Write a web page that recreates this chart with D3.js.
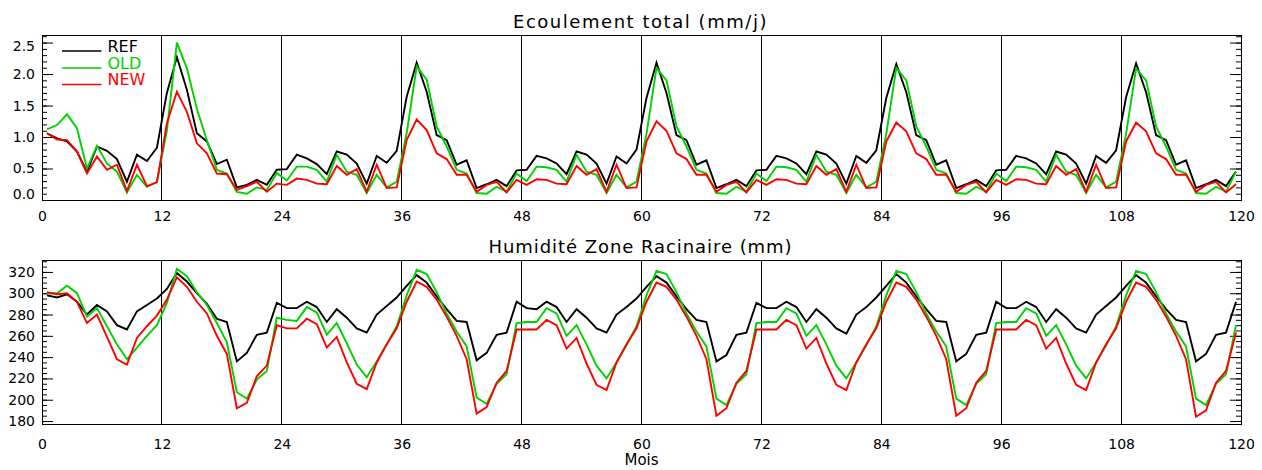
<!DOCTYPE html>
<html><head><meta charset="utf-8">
<script src="https://cdn.jsdelivr.net/npm/d3@7"></script>
<style>
body{margin:0;background:#fff}
svg{display:block}
text{font-family:"DejaVu Sans",sans-serif;fill:#000}
</style>
</head><body>
<svg id="chart" width="1262" height="470"></svg>
<script>
// ---------------- DATA ----------------
const monthTicks = [0,12,24,36,48,60,72,84,96,108,120];
const seriesNames = ["REF","OLD","NEW"];
const seriesColors = ["#000000","#00d200","#ff0000"];

const runoffRef = [
1.06,0.98,0.93,0.77,0.45,0.85,0.78,0.65,0.29,0.72,0.62,0.83,
1.70,2.27,1.75,1.06,0.93,0.57,0.64,0.20,0.24,0.32,0.24,0.48,
0.49,0.72,0.66,0.57,0.41,0.77,0.72,0.58,0.26,0.70,0.59,0.78,
1.64,2.18,1.72,1.03,0.95,0.56,0.63,0.19,0.25,0.32,0.22,0.47,
0.48,0.70,0.66,0.58,0.41,0.77,0.72,0.58,0.26,0.69,0.58,0.80,
1.62,2.18,1.70,1.03,0.95,0.56,0.63,0.19,0.25,0.32,0.22,0.47,
0.48,0.70,0.66,0.58,0.41,0.77,0.72,0.58,0.26,0.70,0.59,0.79,
1.62,2.16,1.71,1.03,0.95,0.56,0.63,0.19,0.25,0.32,0.22,0.47,
0.48,0.70,0.66,0.58,0.41,0.77,0.72,0.58,0.26,0.70,0.59,0.79,
1.63,2.17,1.71,1.03,0.95,0.56,0.63,0.19,0.25,0.32,0.22,0.45];

const runoffOld = [
1.12,1.19,1.36,1.14,0.50,0.86,0.58,0.45,0.12,0.40,0.21,0.29,
1.10,2.50,2.09,1.45,0.95,0.48,0.42,0.13,0.10,0.20,0.16,0.43,
0.31,0.53,0.53,0.48,0.29,0.72,0.45,0.40,0.11,0.40,0.20,0.29,
1.06,2.12,1.91,1.17,0.85,0.48,0.42,0.11,0.10,0.21,0.13,0.42,
0.30,0.53,0.52,0.48,0.29,0.72,0.45,0.40,0.11,0.40,0.20,0.29,
1.05,2.10,1.90,1.17,0.85,0.48,0.42,0.11,0.10,0.21,0.13,0.42,
0.30,0.53,0.52,0.48,0.29,0.72,0.45,0.40,0.11,0.40,0.20,0.29,
1.05,2.10,1.90,1.17,0.85,0.48,0.42,0.11,0.10,0.21,0.13,0.42,
0.30,0.53,0.52,0.48,0.29,0.72,0.45,0.40,0.11,0.40,0.20,0.29,
1.05,2.09,1.90,1.17,0.85,0.48,0.42,0.11,0.10,0.21,0.13,0.45];

const runoffNew = [
1.06,0.96,0.95,0.77,0.42,0.69,0.48,0.56,0.14,0.56,0.22,0.28,
1.22,1.72,1.40,0.90,0.74,0.42,0.41,0.16,0.22,0.29,0.13,0.26,
0.24,0.34,0.32,0.26,0.25,0.54,0.40,0.49,0.13,0.56,0.19,0.20,
0.95,1.28,1.11,0.74,0.65,0.40,0.40,0.13,0.24,0.29,0.12,0.32,
0.24,0.33,0.32,0.26,0.25,0.54,0.40,0.49,0.13,0.56,0.19,0.20,
0.93,1.25,1.10,0.74,0.65,0.40,0.40,0.13,0.24,0.29,0.12,0.32,
0.24,0.33,0.32,0.26,0.25,0.54,0.40,0.49,0.13,0.56,0.19,0.20,
0.93,1.23,1.09,0.74,0.65,0.40,0.40,0.13,0.24,0.29,0.12,0.32,
0.24,0.33,0.32,0.26,0.25,0.54,0.40,0.49,0.13,0.56,0.19,0.20,
0.93,1.23,1.09,0.74,0.65,0.40,0.40,0.13,0.24,0.29,0.12,0.25];

const moistRef = [
298,296,299,292,280,289,283,270,266,283,289,295,
304,319,311,300,290,276,273,236,244,261,263,291,
286,286,292,287,273,285,277,267,263,280,288,296,
307,317,310,297,285,274,273,237,244,261,263,292,
286,285,292,287,273,285,277,267,263,280,287,295,
306,316,310,297,285,275,273,236,242,261,263,291,
286,286,292,287,273,285,277,267,262,280,287,296,
307,318,310,297,285,274,273,236,243,261,263,292,
286,286,292,287,273,285,277,267,263,280,288,296,
307,317,310,297,285,275,273,236,243,261,263,292];

const moistOld = [
300,300,307,300,278,286,269,252,238,249,260,270,
291,323,316,301,289,272,254,207,201,219,227,277,
275,274,287,282,261,272,253,233,221,236,252,269,
298,322,318,301,281,264,250,202,196,215,224,272,
273,273,286,281,260,270,252,232,220,235,251,269,
298,321,318,301,281,264,250,201,195,215,224,272,
273,273,286,281,260,270,252,232,220,235,251,269,
298,321,318,301,281,264,250,201,195,215,224,272,
273,273,286,281,260,270,252,232,220,235,251,269,
298,321,318,301,281,264,250,201,195,215,224,270];

const moistNew = [
301,299,300,292,272,280,259,238,233,258,269,279,
294,315,306,292,281,260,243,192,197,222,232,270,
267,267,276,271,249,259,235,215,210,235,252,267,
292,311,306,294,278,260,238,187,193,216,227,266,
266,266,275,270,248,258,234,214,209,235,252,267,
292,310,306,294,278,260,238,185,192,216,227,266,
266,266,275,270,248,258,234,214,209,235,252,267,
292,310,306,294,278,260,238,185,192,216,227,266,
266,266,275,270,248,258,234,214,209,235,252,267,
292,310,306,294,278,260,238,184,190,216,227,263];

const runoffMajor = [0,0.5,1.0,1.5,2.0,2.5];
const moistMajor = [180,200,220,240,260,280,300,320];

// ---------------- DRAW ----------------
const svg = d3.select("#chart");
const x = d3.scaleLinear().domain([0,120]).range([42,1241]);
const snap = v => Math.floor(v) + 0.5;

const panels = [
  {title:"Ecoulement total (mm/j)", titleY:27.7, titleW:255,
   top:35, bottom:200, domain:[0,2.62], series:[runoffRef,runoffOld,runoffNew],
   major:runoffMajor, minor:d3.range(0,2.61,0.1), fmt:d3.format(".1f"),
   labMin:10.7, labMax:5.7, xLabOff:20.5, legend:true},
  {title:"Humidité Zone Racinaire (mm)", titleY:252.7, titleW:304,
   top:260, bottom:424, domain:[177.2,331.2], series:[moistRef,moistOld,moistNew],
   major:moistMajor, minor:d3.range(180,331,5), fmt:d3.format("d"),
   labMin:10.7, labMax:3.3, xLabOff:24.5, legend:false}
];

panels.forEach(p => {
  const y = d3.scaleLinear().domain(p.domain).range([p.bottom, p.top]);
  const g = svg.append("g");

  // title
  const t = g.append("text").attr("x",640.5).attr("y",p.titleY)
    .attr("text-anchor","middle").style("font-size","18px").text(p.title);
  const n = p.title.length;
  const w0 = t.node().getComputedTextLength();
  t.style("letter-spacing", ((p.titleW - w0)/n).toFixed(2)+"px");

  // month separators
  g.selectAll("line.sep").data(monthTicks.slice(1,-1)).join("line")
    .attr("class","sep")
    .attr("x1",d=>snap(x(d))).attr("x2",d=>snap(x(d)))
    .attr("y1",p.top).attr("y2",p.bottom)
    .attr("stroke","#000").attr("stroke-width",1);

  // left axis minor & major
  const axL = g.append("g").attr("transform",`translate(${snap(x(0))-0.5},0)`);
  axL.append("g").call(d3.axisLeft(y).tickValues(p.minor).tickSize(-5).tickFormat(""))
    .call(s=>s.select(".domain").remove());
  const maj = axL.append("g").call(d3.axisLeft(y).tickValues(p.major).tickSize(-11).tickPadding(7).tickFormat(p.fmt));
  maj.select(".domain").remove();
  maj.selectAll("text").style("font-size","14px").attr("font-family",null)
    .attr("x",-7)
    .attr("y", d => {
      let yy = y(d);
      yy = Math.max(yy, p.top + p.labMin);
      yy = Math.min(yy, p.bottom - p.labMax);
      return yy - y(d);
    });
  axL.selectAll("line").attr("stroke","#000");

  // right axis
  const axR = g.append("g").attr("transform",`translate(${snap(x(120))-0.5},0)`);
  axR.append("g").call(d3.axisRight(y).tickValues(p.minor).tickSize(-5).tickFormat(""))
    .call(s=>s.select(".domain").remove());
  axR.append("g").call(d3.axisRight(y).tickValues(p.major).tickSize(-11).tickFormat(""))
    .call(s=>s.select(".domain").remove());
  axR.selectAll("line").attr("stroke","#000");

  // bottom axis labels
  const axB = g.append("g").attr("transform",`translate(0,${p.bottom})`)
    .call(d3.axisBottom(x).tickValues(monthTicks).tickSize(0).tickFormat(d3.format("d")));
  axB.select(".domain").remove();
  axB.selectAll("text").style("font-size","14px").attr("font-family",null)
    .attr("y",p.xLabOff).attr("dy",null);

  // series lines
  const line = d3.line().x((d,i)=>x(i+0.5)).y(d=>y(d));
  p.series.forEach((s,k) => {
    g.append("path").datum(s).attr("d",line)
      .attr("fill","none").attr("stroke",seriesColors[k])
      .attr("stroke-width",1.9).attr("stroke-linejoin","miter");
  });

  // frame
  g.append("rect").attr("x",snap(x(0))).attr("y",p.top+0.5)
    .attr("width",snap(x(120))-snap(x(0))).attr("height",p.bottom-p.top)
    .attr("fill","none").attr("stroke","#000").attr("stroke-width",1);

  // legend
  if (p.legend) {
    const ly = [51,68,84.5];
    seriesNames.forEach((nm,k) => {
      g.append("line").attr("x1",62).attr("x2",101.5).attr("y1",ly[k]).attr("y2",ly[k])
        .attr("stroke",seriesColors[k]).attr("stroke-width",1.5);
      g.append("text").attr("x",107.5).attr("y",ly[k]+0.8)
        .style("font-size","16px").style("fill",seriesColors[k]).text(nm);
    });
  }
});

svg.append("text").attr("x",641.5).attr("y",465).attr("text-anchor","middle")
  .style("font-size","15px").text("Mois");
</script>
</body></html>
